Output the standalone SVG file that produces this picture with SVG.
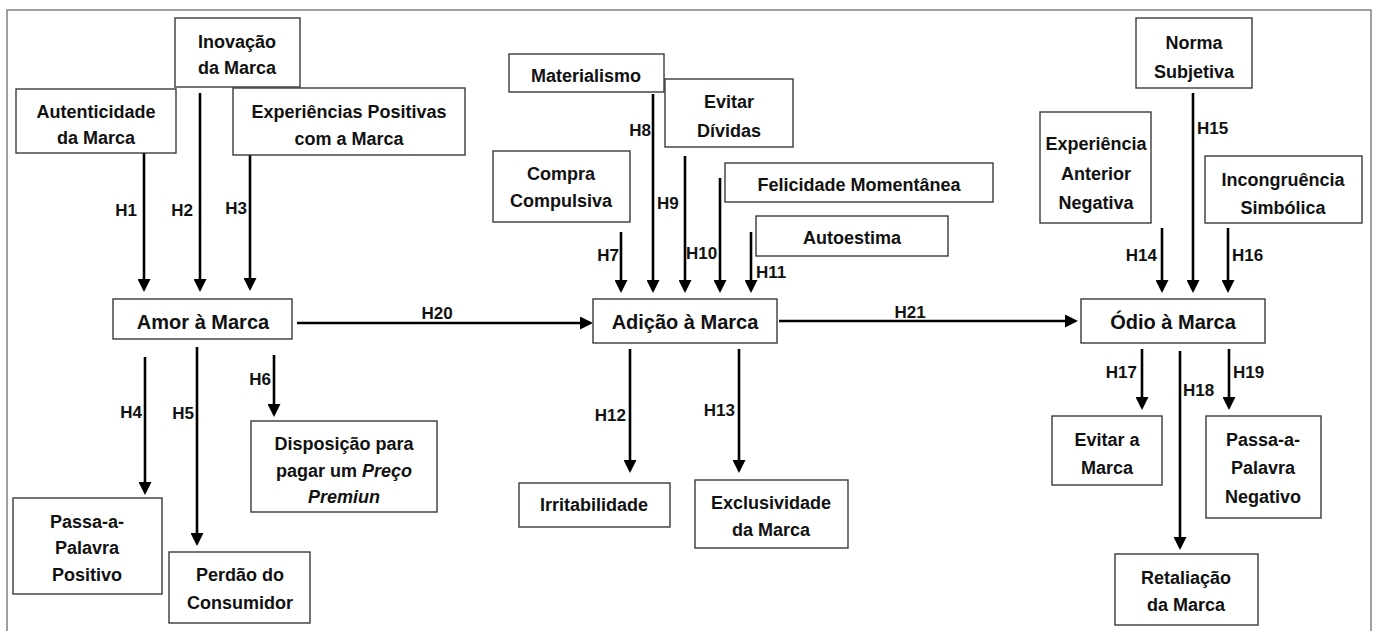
<svg xmlns="http://www.w3.org/2000/svg" width="1376" height="631" viewBox="0 0 1376 631">
<style>
.box{fill:#fff;stroke:#3a3a3a;stroke-width:1.4}
.t{font-family:"Liberation Sans",Arial,sans-serif;font-weight:bold;font-size:18px;fill:#111;text-anchor:middle;dominant-baseline:central}
.big{font-size:20px}
.h{font-family:"Liberation Sans",Arial,sans-serif;font-weight:bold;font-size:17px;fill:#111;dominant-baseline:central}
.e{text-anchor:end}
.c{stroke:#000;stroke-width:2.6;fill:none;marker-end:url(#ah)}
</style>
<defs>
<marker id="ah" viewBox="0 0 13 13" refX="10" refY="6.5" markerWidth="13" markerHeight="13" markerUnits="userSpaceOnUse" orient="auto">
<path d="M0,0 L13,6.5 L0,13 Z" fill="#000"/>
</marker>
</defs>
<rect x="7" y="10" width="1364" height="640" fill="#fff" stroke="#808080" stroke-width="1.5"/>

<g id="connectors">
<line class="c" x1="144" y1="153" x2="144" y2="289"/>
<line class="c" x1="200" y1="93" x2="200" y2="289"/>
<line class="c" x1="250" y1="155" x2="250" y2="288"/>
<line class="c" x1="145" y1="357" x2="145" y2="492"/>
<line class="c" x1="197" y1="347" x2="197" y2="543"/>
<line class="c" x1="274" y1="355" x2="274" y2="414"/>
<line class="c" x1="297" y1="323" x2="590" y2="323"/>
<line class="c" x1="621" y1="232" x2="621" y2="290"/>
<line class="c" x1="653" y1="94" x2="653" y2="290"/>
<line class="c" x1="685" y1="156" x2="685" y2="290"/>
<line class="c" x1="720" y1="178" x2="720" y2="290"/>
<line class="c" x1="751" y1="232" x2="751" y2="290"/>
<line class="c" x1="630" y1="349" x2="630" y2="470"/>
<line class="c" x1="739" y1="349" x2="739" y2="470"/>
<line class="c" x1="779" y1="321" x2="1075" y2="321"/>
<line class="c" x1="1162" y1="228" x2="1162" y2="290"/>
<line class="c" x1="1193" y1="93" x2="1193" y2="290"/>
<line class="c" x1="1228" y1="228" x2="1228" y2="290"/>
<line class="c" x1="1142" y1="349" x2="1142" y2="407"/>
<line class="c" x1="1180" y1="351" x2="1180" y2="547"/>
<line class="c" x1="1229" y1="349" x2="1229" y2="407"/>
<text class="h e" x="137" y="210">H1</text>
<text class="h e" x="193" y="210">H2</text>
<text class="h e" x="247" y="208">H3</text>
<text class="h e" x="142" y="412">H4</text>
<text class="h e" x="194" y="413">H5</text>
<text class="h e" x="271" y="379">H6</text>
<text class="h" x="437" y="313" text-anchor="middle">H20</text>
<text class="h e" x="619" y="255">H7</text>
<text class="h e" x="651" y="130">H8</text>
<text class="h" x="657" y="203">H9</text>
<text class="h" x="686" y="253">H10</text>
<text class="h" x="756" y="272">H11</text>
<text class="h e" x="626" y="415">H12</text>
<text class="h e" x="735" y="410">H13</text>
<text class="h" x="910" y="312" text-anchor="middle">H21</text>
<text class="h e" x="1157" y="255">H14</text>
<text class="h" x="1197" y="128">H15</text>
<text class="h" x="1232" y="255">H16</text>
<text class="h e" x="1137" y="372">H17</text>
<text class="h" x="1183" y="390">H18</text>
<text class="h" x="1233" y="372">H19</text>
</g>

<g id="n-inovacao"><rect class="box" x="175" y="18" width="125" height="69"/><text class="t" x="237" y="42">Inovação</text><text class="t" x="237" y="68">da Marca</text></g>
<g id="n-autenticidade"><rect class="box" x="16" y="89" width="160" height="64"/><text class="t" x="96" y="112">Autenticidade</text><text class="t" x="96" y="138">da Marca</text></g>
<g id="n-experiencias"><rect class="box" x="233" y="88" width="232" height="67"/><text class="t" x="349" y="112">Experiências Positivas</text><text class="t" x="349" y="139">com a Marca</text></g>
<g id="n-amor"><rect class="box" x="113" y="299" width="179" height="40"/><text class="t big" x="203" y="322">Amor à Marca</text></g>
<g id="n-passa-pos"><rect class="box" x="13" y="498" width="149" height="96"/><text class="t" x="87" y="522">Passa-a-</text><text class="t" x="87" y="548">Palavra</text><text class="t" x="87" y="575">Positivo</text></g>
<g id="n-perdao"><rect class="box" x="169" y="552" width="141" height="71"/><text class="t" x="240" y="575">Perdão do</text><text class="t" x="240" y="603">Consumidor</text></g>
<g id="n-disposicao"><rect class="box" x="251" y="421" width="186" height="91"/><text class="t" x="344" y="444">Disposição para</text><text class="t" x="344" y="471">pagar um <tspan font-style="italic">Preço</tspan></text><text class="t" x="344" y="497" font-style="italic">Premiun</text></g>

<g id="n-materialismo"><rect class="box" x="509" y="54" width="155" height="38"/><text class="t" x="586" y="76">Materialismo</text></g>
<g id="n-evitar-dividas"><rect class="box" x="665" y="79" width="128" height="68"/><text class="t" x="729" y="102">Evitar</text><text class="t" x="729" y="131">Dívidas</text></g>
<g id="n-compra"><rect class="box" x="493" y="151" width="137" height="71"/><text class="t" x="561" y="174">Compra</text><text class="t" x="561" y="201">Compulsiva</text></g>
<g id="n-felicidade"><rect class="box" x="725" y="163" width="268" height="39"/><text class="t" x="859" y="185">Felicidade Momentânea</text></g>
<g id="n-autoestima"><rect class="box" x="756" y="216" width="192" height="40"/><text class="t" x="852" y="238">Autoestima</text></g>
<g id="n-adicao"><rect class="box" x="593" y="299" width="184" height="44"/><text class="t big" x="685" y="322">Adição à Marca</text></g>
<g id="n-irritabilidade"><rect class="box" x="519" y="483" width="151" height="44"/><text class="t" x="594" y="505">Irritabilidade</text></g>
<g id="n-exclusividade"><rect class="box" x="695" y="480" width="153" height="68"/><text class="t" x="771" y="503">Exclusividade</text><text class="t" x="771" y="530">da Marca</text></g>

<g id="n-norma"><rect class="box" x="1136" y="18" width="116" height="70"/><text class="t" x="1194" y="43">Norma</text><text class="t" x="1194" y="72">Subjetiva</text></g>
<g id="n-exp-anterior"><rect class="box" x="1040" y="112" width="111" height="111"/><text class="t" x="1096" y="144">Experiência</text><text class="t" x="1096" y="174">Anterior</text><text class="t" x="1096" y="203">Negativa</text></g>
<g id="n-incongruencia"><rect class="box" x="1205" y="156" width="157" height="67"/><text class="t" x="1283" y="180">Incongruência</text><text class="t" x="1283" y="208">Simbólica</text></g>
<g id="n-odio"><rect class="box" x="1081" y="299" width="184" height="44"/><text class="t big" x="1173" y="322">Ódio à Marca</text></g>
<g id="n-evitar-marca"><rect class="box" x="1052" y="416" width="110" height="69"/><text class="t" x="1107" y="440">Evitar a</text><text class="t" x="1107" y="468">Marca</text></g>
<g id="n-passa-neg"><rect class="box" x="1206" y="416" width="115" height="102"/><text class="t" x="1263" y="440">Passa-a-</text><text class="t" x="1263" y="468">Palavra</text><text class="t" x="1263" y="497">Negativo</text></g>
<g id="n-retaliacao"><rect class="box" x="1115" y="554" width="143" height="71"/><text class="t" x="1186" y="578">Retaliação</text><text class="t" x="1186" y="605">da Marca</text></g>
</svg>
